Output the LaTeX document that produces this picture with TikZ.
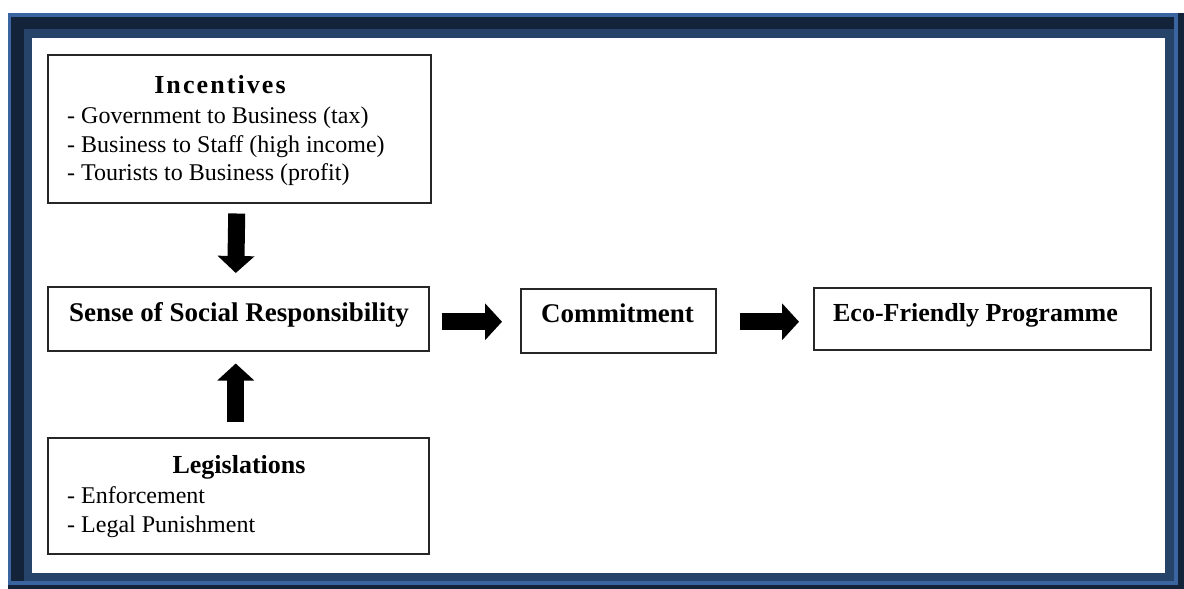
\documentclass[tikz,border=0pt]{standalone}
\usepackage{fontspec}
\setmainfont{Liberation Serif}
\usetikzlibrary{arrows.meta}
\definecolor{navy}{HTML}{13233A}
\definecolor{lblue}{HTML}{3B65A0}
\definecolor{dblue}{HTML}{26436A}
\tikzset{
  box/.style={draw=black!85, line width=1.5pt, fill=white, inner sep=0pt, anchor=north west},
  ttl/.style={inner sep=0pt, anchor=base, font=\fontsize{26}{30}\selectfont\bfseries},
  itm/.style={inner sep=0pt, anchor=base west, font=\fontsize{24}{30}\selectfont},
  lbl/.style={inner sep=0pt, anchor=base, font=\fontsize{27}{30}\selectfont\bfseries},
  blk/.style={black, line width=17pt, -{Triangle[length=17pt,width=36pt]}}
}
\begin{document}
\begin{tikzpicture}[x=1pt,y=-1pt]
\useasboundingbox (0,0) rectangle (1184,589);
% frame
\fill[navy] (8,13) rectangle (1184,589);
\fill[lblue] (8,13) rectangle (1178,585);
\fill[navy] (11,17) rectangle (1174,581);
\fill[dblue] (24,29) rectangle (1174,581);
\fill[white] (32,38) rectangle (1165,573);
% boxes
\node[box, minimum width=383pt, minimum height=148pt] (inc) at (47,54) {};
\node[box, minimum width=381pt, minimum height=64pt] (sense) at (47,286) {};
\node[box, minimum width=195pt, minimum height=64pt] (comm) at (520,288) {};
\node[box, minimum width=337pt, minimum height=62pt] (eco) at (813,287) {};
\node[box, minimum width=381pt, minimum height=116pt] (legis) at (47,437) {};
% single-line labels
\node[lbl] (sensetxt) at (239,321) {Sense of Social Responsibility};
\node[lbl] (commtxt) at (617.5,322) {Commitment};
\node[lbl, font=\fontsize{26}{30}\selectfont\bfseries] (ecotxt) at (975.5,321) {Eco-Friendly Programme};
% incentives text
\node[ttl] (inct) at (220,93) {\addfontfeature{LetterSpace=8}Incentives};
\node[itm] (inc1) at (67,123) {- Government to Business (tax)};
\node[itm] (inc2) at (67,152) {- Business to Staff (high income)};
\node[itm] (inc3) at (67,180) {- Tourists to Business (profit)};
% legislations text
\node[ttl] (legt) at (239,473) {Legislations};
\node[itm] (leg1) at (67,503) {- Enforcement};
\node[itm] (leg2) at (67,532) {- Legal Punishment};
% block arrows
\draw[blk] ([xshift=-2.5pt,yshift=-10pt]inc.south) -- ([xshift=-2.5pt,yshift=13pt]sense.north);
\draw[blk] ([xshift=-2.5pt,yshift=15pt]legis.north) -- ([xshift=-2.5pt,yshift=-12pt]sense.south);
\draw[blk] ([xshift=12pt,yshift=-3pt]sense.east) -- ([xshift=-18pt,yshift=-1pt]comm.west);
\draw[blk] ([xshift=23pt,yshift=-1pt]comm.east) -- ([xshift=-14pt,yshift=-3pt]eco.west);
\end{tikzpicture}
\end{document}
